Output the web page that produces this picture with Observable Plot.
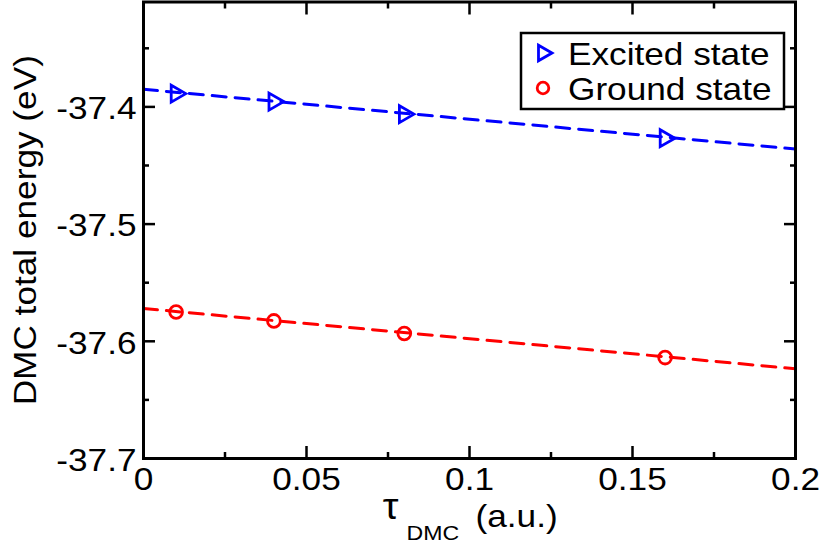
<!DOCTYPE html>
<html>
<head>
<meta charset="utf-8">
<script src="https://cdn.jsdelivr.net/npm/d3@7"></script>
<script src="https://cdn.jsdelivr.net/npm/@observablehq/plot@0.6"></script>
<style>
  html, body { margin: 0; padding: 0; background: #fff; }
  svg { font-family: "Liberation Sans", Arial, Helvetica, sans-serif; }
</style>
</head>
<body>
<div id="chart"></div>
<script>
// ---- data ----
const tau = [0.01, 0.04, 0.08, 0.16];
const excitedEnergy = [-37.3887, -37.3955, -37.4062, -37.4267];
const groundEnergy = [-37.5750, -37.5826, -37.5934, -37.6139];

const fitTau = [0, 0.2];
const fitExcited = [-37.385, -37.436];
const fitGround = [-37.572, -37.6235];

const seriesNames = ["Excited state", "Ground state"];
const seriesColors = ["#0000ff", "#ff0000"];

const xMajorTicks = [0, 0.05, 0.1, 0.15, 0.2];
const xMinorTicks = [0.025, 0.075, 0.125, 0.175];
const xTickLabels = ["0", "0.05", "0.1", "0.15", "0.2"];
const yMajorTicks = [-37.7, -37.6, -37.5, -37.4];
const yMinorTicks = [-37.65, -37.55, -37.45, -37.35];
const yTickLabels = ["-37.7", "-37.6", "-37.5", "-37.4"];

const yTitle = "DMC total energy (eV)";
const xTitleSymbol = "τ";
const xTitleSub = "DMC";
const xTitleUnit = "(a.u.)";

// ---- tables ----
const excited = tau.map((t, i) => ({t, e: excitedEnergy[i]}));
const ground = tau.map((t, i) => ({t, e: groundEnergy[i]}));
const fitE = fitTau.map((t, i) => ({t, e: fitExcited[i]}));
const fitG = fitTau.map((t, i) => ({t, e: fitGround[i]}));

const FS = 32;
const tickOpts = {fill: "none", label: null, strokeWidth: 2.5, stroke: "black"};

const svg = Plot.plot({
  width: 825,
  height: 544,
  marginLeft: 143,
  marginRight: 30,
  marginTop: 1.5,
  marginBottom: 86,
  style: {fontFamily: "Liberation Sans, Arial, sans-serif", background: "white", color: "black"},
  x: {domain: [0, 0.2]},
  y: {domain: [-37.7, -37.3105]},
  marks: [
    // tick marks (inward, mirrored)
    Plot.axisX(xMajorTicks, {...tickOpts, anchor: "bottom", tickSize: -12}),
    Plot.axisX(xMinorTicks, {...tickOpts, anchor: "bottom", tickSize: -6}),
    Plot.axisX(xMajorTicks, {...tickOpts, anchor: "top", tickSize: -12}),
    Plot.axisX(xMinorTicks, {...tickOpts, anchor: "top", tickSize: -6}),
    Plot.axisY(yMajorTicks, {...tickOpts, anchor: "left", tickSize: -12}),
    Plot.axisY(yMinorTicks, {...tickOpts, anchor: "left", tickSize: -6}),
    Plot.axisY(yMajorTicks, {...tickOpts, anchor: "right", tickSize: -12}),
    Plot.axisY(yMinorTicks, {...tickOpts, anchor: "right", tickSize: -6}),
    // tick labels
    Plot.axisX(xMajorTicks, {anchor: "bottom", tickSize: 0, tickPadding: 9, fontSize: FS, label: null,
      tickFormat: (d) => xTickLabels[xMajorTicks.indexOf(d)]}),
    Plot.axisY(yMajorTicks, {anchor: "left", tickSize: 0, tickPadding: 7, fontSize: FS, label: null, dy: 2,
      tickFormat: (d) => yTickLabels[yMajorTicks.indexOf(d)]}),
    // titles
    Plot.text([yTitle], {frameAnchor: "left", rotate: -90, dx: -108, fontSize: FS, lineAnchor: "bottom", textAnchor: "middle", fill: "black"}),
    Plot.text([xTitleSymbol], {frameAnchor: "bottom", dx: -79, dy: 60, fontSize: 36, lineAnchor: "bottom", textAnchor: "middle", fill: "black"}),
    Plot.text([xTitleSub], {frameAnchor: "bottom", dx: -63, dy: 81, fontSize: 21, lineAnchor: "bottom", textAnchor: "start", fill: "black"}),
    Plot.text([xTitleUnit], {frameAnchor: "bottom", dx: 6, dy: 68, fontSize: FS, lineAnchor: "bottom", textAnchor: "start", fill: "black"}),
    // fit lines
    Plot.line(fitE, {x: "t", y: "e", stroke: seriesColors[0], strokeWidth: 3, strokeDasharray: "14,9"}),
    Plot.line(fitG, {x: "t", y: "e", stroke: seriesColors[1], strokeWidth: 3, strokeDasharray: "14,9"}),
    // points
    Plot.dot(excited, {x: "t", y: "e", symbol: "triangle", rotate: 90, r: 6.3, stroke: seriesColors[0], strokeWidth: 2.8, fill: "none"}),
    Plot.dot(ground, {x: "t", y: "e", symbol: "circle", r: 6.4, stroke: seriesColors[1], strokeWidth: 2.8, fill: "none"}),
    Plot.frame({stroke: "black", strokeWidth: 3})
  ]
});

document.getElementById("chart").append(svg);

// ---- legend (inside plot, top-right) ----
const lg = d3.select(svg).append("g").attr("class", "legend").attr("text-anchor", "start");
lg.append("rect").attr("x", 521).attr("y", 33).attr("width", 263).attr("height", 76)
  .attr("fill", "white").attr("stroke", "black").attr("stroke-width", 2.5);
const legendSymbols = [d3.symbolTriangle, d3.symbolCircle];
const legendRotate = [90, 0];
const legendR = [5.8, 5.8];
seriesNames.forEach((name, i) => {
  const cy = 53 + i * 35;
  lg.append("path")
    .attr("d", d3.symbol(legendSymbols[i], legendR[i] ** 2 * Math.PI)())
    .attr("transform", `translate(543,${cy}) rotate(${legendRotate[i]})`)
    .attr("fill", "none").attr("stroke", seriesColors[i]).attr("stroke-width", 2.8);
  lg.append("text").attr("x", 568).attr("y", cy + 12).attr("text-anchor", "start")
    .attr("font-size", FS).attr("fill", "black").text(name);
});

// widen glyphs slightly to match the reference typeface
svg.querySelectorAll("text").forEach((t) => {
  const L = t.getComputedTextLength();
  if (L > 0) {
    t.setAttribute("textLength", (L * 1.1).toFixed(1));
    t.setAttribute("lengthAdjust", "spacingAndGlyphs");
  }
});
</script>
</body>
</html>
